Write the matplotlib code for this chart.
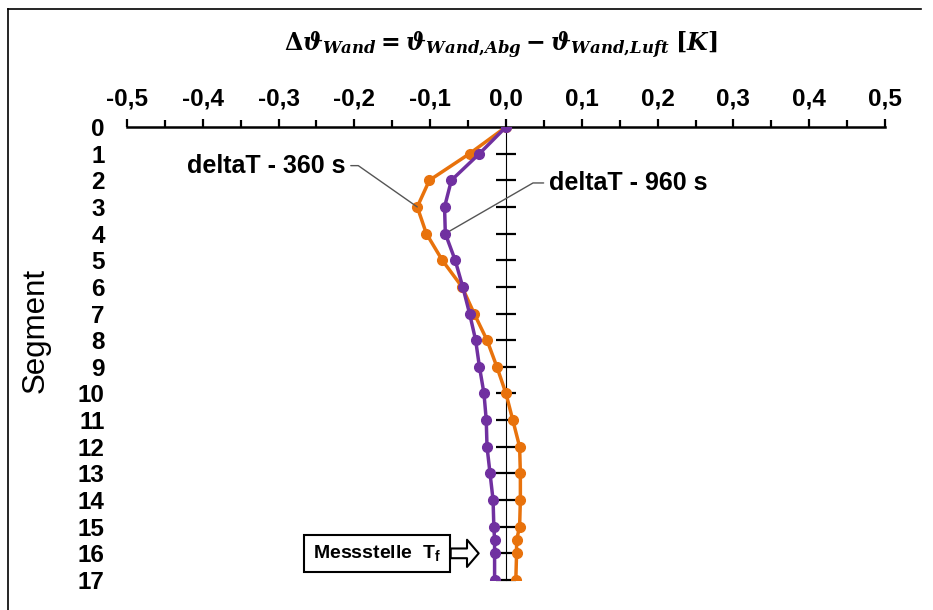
import numpy as np
import matplotlib.pyplot as plt
from matplotlib.lines import Line2D
from matplotlib.ticker import MultipleLocator

plt.rcParams['font.family'] = ['Liberation Sans', 'DejaVu Sans']
plt.rcParams['mathtext.fontset'] = 'custom'
plt.rcParams['mathtext.it'] = 'DejaVu Serif:italic:bold'
plt.rcParams['mathtext.rm'] = 'DejaVu Serif:bold'
plt.rcParams['mathtext.bf'] = 'Liberation Sans:bold'

# Segmente (15,5 = zusaetzlicher Messpunkt)
segment = [0, 1, 2, 3, 4, 5, 6, 7, 8, 9, 10, 11, 12, 13, 14, 15, 15.5, 16, 17]
dT_360 = [0.0, -0.048, -0.101, -0.117, -0.105, -0.084, -0.058, -0.042, -0.025,
          -0.012, 0.0, 0.009, 0.018, 0.019, 0.019, 0.018, 0.014, 0.014, 0.013]
dT_960 = [0.0, -0.035, -0.072, -0.081, -0.080, -0.067, -0.057, -0.048, -0.040,
          -0.035, -0.029, -0.026, -0.025, -0.021, -0.017, -0.016, -0.015, -0.015, -0.015]
x_ticks = [-0.5, -0.4, -0.3, -0.2, -0.1, 0.0, 0.1, 0.2, 0.3, 0.4, 0.5]
x_labels = ['-0,5', '-0,4', '-0,3', '-0,2', '-0,1', '0,0', '0,1', '0,2', '0,3', '0,4', '0,5']
y_ticks = list(range(0, 18))

orange = '#E8720C'
purple = '#7030A0'

fig = plt.figure(figsize=(9.33, 6.10), dpi=100)
ax = fig.add_axes([0.136, 0.0492, 0.9486 - 0.136, 0.7918 - 0.0492])

ax.plot(dT_360, segment, color=orange, lw=2.5, marker='o', ms=7, zorder=3)
ax.plot(dT_960, segment, color=purple, lw=2.5, marker='o', ms=7, zorder=4)

ax.set_xlim(-0.5, 0.5)
ax.set_ylim(17, 0)

# x-Achse oben
ax.xaxis.tick_top()
ax.set_xticks(x_ticks)
ax.set_xticklabels(x_labels, fontsize=17.5, fontweight='bold')
ax.xaxis.set_minor_locator(MultipleLocator(0.05))
ax.tick_params(axis='x', which='major', direction='out', length=6, width=1.6, pad=6)
ax.tick_params(axis='x', which='minor', direction='out', length=5, width=1.6)
for s in ['right', 'bottom', 'left']:
    ax.spines[s].set_visible(False)
ax.spines['top'].set_linewidth(1.8)

# Beschriftung Segmente links, ohne Striche
ax.set_yticks(y_ticks)
ax.set_yticklabels([str(v) for v in y_ticks], fontsize=17.5, fontweight='bold')
ax.tick_params(axis='y', length=0, pad=16)
ax.set_ylabel('Segment', fontsize=22.5)
ax.yaxis.set_label_coords(-0.101, 0.552)

# senkrechte Achse bei 0 mit Strichen
sec = ax.secondary_yaxis(0.5)
sec.set_yticks(y_ticks[1:])
sec.tick_params(direction='inout', length=15, width=1.6, labelleft=False, labelright=False)
sec.spines['left'].set_linewidth(1.8)

fig.text(0.537, 0.925,
         r'$\Delta\vartheta_{Wand}=\vartheta_{Wand{,}Abg}-\vartheta_{Wand{,}Luft}\;[K]$',
         ha='center', va='center', fontsize=17)

# Beschriftungen der Kurven
ax.annotate('deltaT - 360 s', xy=(dT_360[3], segment[3]), xytext=(-0.212, 1.45),
            fontsize=18, fontweight='bold', ha='right', va='center',
            arrowprops=dict(arrowstyle='-', color='#555555', lw=1,
                            connectionstyle='angle,angleA=0,angleB=145,rad=0',
                            shrinkA=2, shrinkB=0))
ax.annotate('deltaT - 960 s', xy=(dT_960[4], segment[4]), xytext=(0.057, 2.1),
            fontsize=18, fontweight='bold', ha='left', va='center',
            arrowprops=dict(arrowstyle='-', color='#555555', lw=1,
                            connectionstyle='angle,angleA=180,angleB=30,rad=0',
                            shrinkA=2, shrinkB=0))

ax.annotate(r'Messstelle  T$_\mathbf{f}$', xy=(-0.036, 16), xytext=(-0.17, 16),
            fontsize=14, fontweight='bold', ha='center', va='center',
            bbox=dict(boxstyle='square,pad=0.45', fc='white', ec='black', lw=1.5),
            arrowprops=dict(arrowstyle='simple,head_length=0.6,head_width=1.4,tail_width=0.5',
                            fc='white', ec='black', lw=1.5, shrinkA=0, shrinkB=0))

# Rahmen links und oben
fig.add_artist(Line2D([8 / 933, 8 / 933], [0, 1 - 9 / 610], color='black', lw=1.2))
fig.add_artist(Line2D([8 / 933, 921 / 933], [1 - 9 / 610, 1 - 9 / 610], color='black', lw=1.2))

fig.savefig('out.png', dpi=100)
